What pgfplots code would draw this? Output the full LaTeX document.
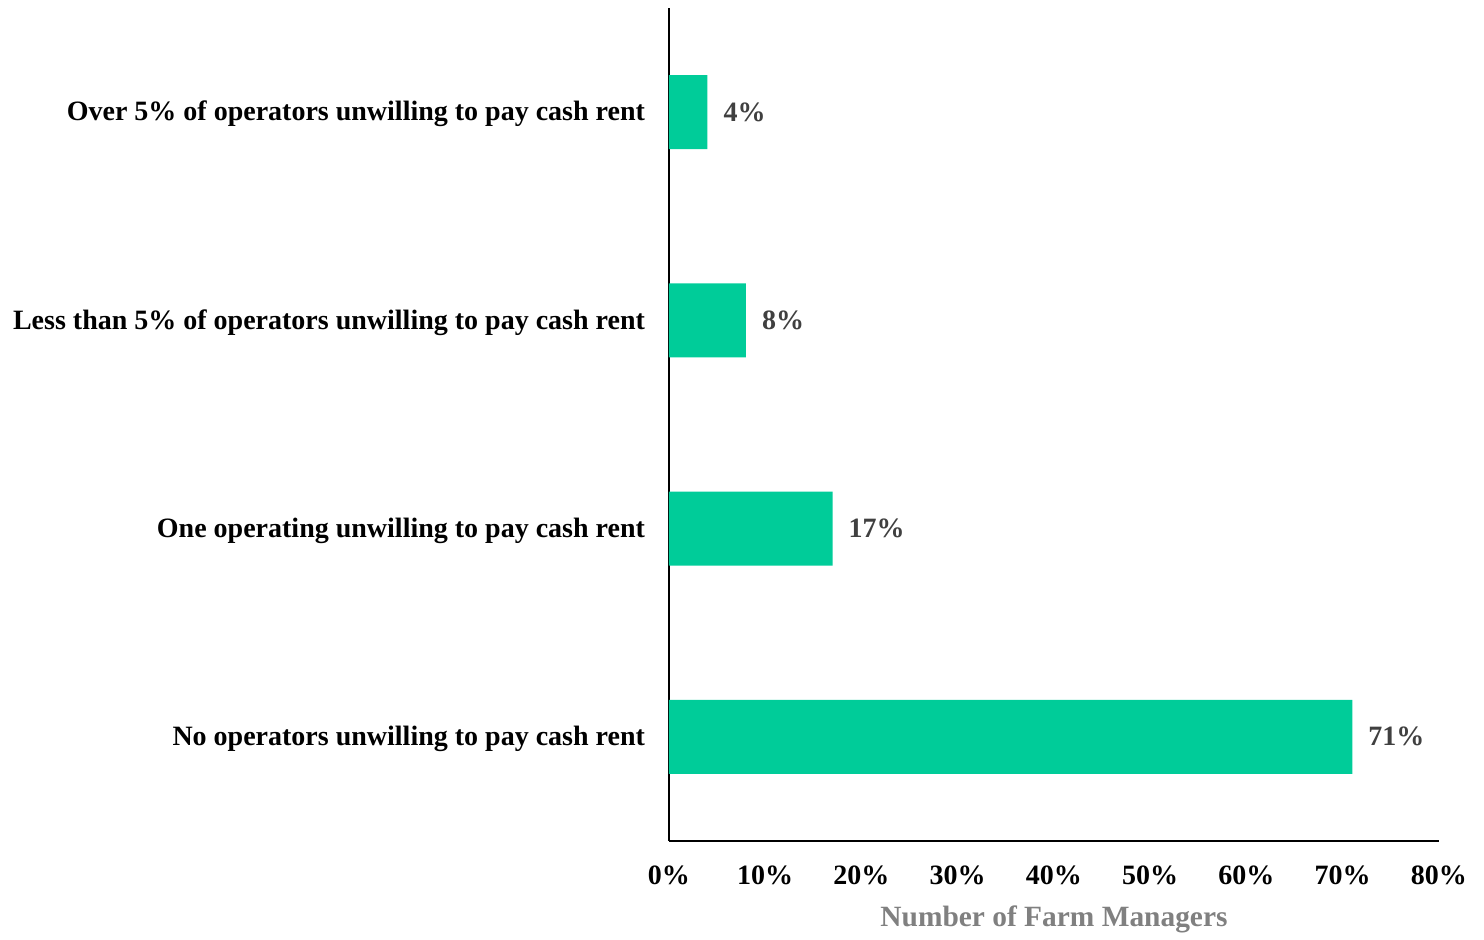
\documentclass[border=0pt]{standalone}
\usepackage{pgfplots}
\pgfplotsset{compat=1.18}
\usepackage{fontspec}
\setmainfont{Liberation Serif}
\definecolor{barc}{RGB}{0,204,153}
\definecolor{lblc}{RGB}{64,64,64}
\definecolor{xlc}{RGB}{128,128,128}
\begin{document}
\begin{tikzpicture}
\begin{axis}[name=ax,
  scale only axis, width=385pt, height=416.5pt,
  xbar, bar width=37pt,
  xmin=0, xmax=80, ymin=-0.5, ymax=3.5,
  axis lines=left, axis line style={-, line width=0.9pt, black},
  xtick={0,10,...,80}, xticklabel={\pgfmathprintnumber{\tick}\%},
  ytick={0,1,2,3},
  yticklabels={No operators unwilling to pay cash rent,One operating unwilling to pay cash rent,Less than 5\% of operators unwilling to pay cash rent,Over 5\% of operators unwilling to pay cash rent},
  major tick length=0pt,
  tick label style={font=\fontsize{14}{17}\selectfont\bfseries, black},
  /pgf/number format/assume math mode=true,
  xticklabel style={yshift=-9pt},
  yticklabel style={xshift=-8.5pt, yshift=-1pt},
  xlabel={Number of Farm Managers},
  xlabel style={font=\fontsize{14.7}{17}\selectfont\bfseries, text=xlc, yshift=-3.5pt},
  nodes near coords={\pgfmathprintnumber{\pgfplotspointmeta}\%},
  nodes near coords style={font=\fontsize{14}{17}\selectfont\bfseries, text=lblc, anchor=west, xshift=4.5pt},
]
\addplot[fill=barc, draw=none] coordinates {(71,0) (17,1) (8,2) (4,3)};
\end{axis}
\draw[draw=none] ([xshift=-334.5pt,yshift=-46pt]ax.south west) rectangle ([xshift=22.5pt,yshift=4pt]ax.north east);
\end{tikzpicture}
\end{document}
